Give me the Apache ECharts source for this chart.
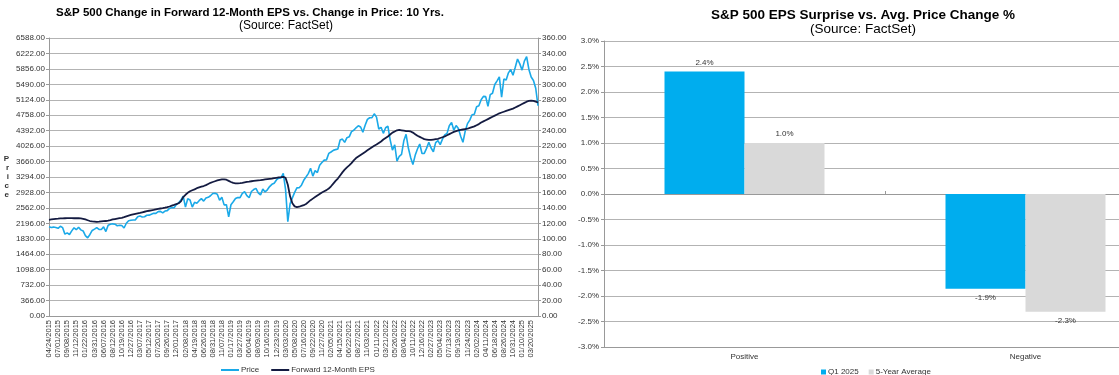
<!DOCTYPE html>
<html>
<head>
<meta charset="utf-8">
<script src="https://cdn.jsdelivr.net/npm/echarts@6/dist/echarts.min.js"></script>
<style>
  html, body { margin: 0; padding: 0; background: #fff; overflow: hidden; }
  /* wider than the window: the right chart is cut off at the edge, like the source image */
  #chart { width: 1170px; height: 375px; }
</style>
</head>
<body>
<div id="chart"></div>
<script>
// x-axis tick labels of the left chart (3 unlabeled points between each)
var tickDates = ['04/24/2015','07/01/2015','09/08/2015','11/12/2015','01/22/2016','03/31/2016','06/07/2016','08/12/2016',
  '10/19/2016','12/27/2016','03/07/2017','05/12/2017','07/20/2017','09/26/2017','12/01/2017','02/08/2018','04/19/2018',
  '06/26/2018','08/31/2018','11/07/2018','01/17/2019','03/27/2019','06/04/2019','08/09/2019','10/16/2019','12/23/2019',
  '03/03/2020','05/08/2020','07/16/2020','09/22/2020','11/27/2020','02/05/2021','04/15/2021','06/22/2021','08/27/2021',
  '11/03/2021','01/11/2022','03/21/2022','05/26/2022','08/04/2022','10/11/2022','12/16/2022','02/27/2023','05/04/2023',
  '07/13/2023','09/19/2023','11/24/2023','02/02/2024','04/11/2024','06/18/2024','08/26/2024','10/31/2024','01/10/2025',
  '03/20/2025'];

var price = [
  2117,2099,2107,2096, 2077,2127,2093,1940, 1969,1932,2017,2090, 2045,2103,2041,2016,
  1906,1852,1932,2027, 2060,2095,2051,2052, 2112,2001,2152,2173, 2184,2176,2139,2150,
  2144,2085,2198,2259, 2268,2274,2279,2351, 2368,2345,2353,2388, 2390,2412,2433,2432,
  2473,2480,2444,2488, 2497,2550,2572,2565, 2642,2681,2747,2839, 2581,2779,2749,2582,
  2693,2672,2733,2782, 2723,2798,2813,2850, 2902,2907,2886,2741, 2814,2633,2637,2351,
  2636,2706,2784,2810, 2805,2907,2945,2854, 2803,2950,2996,3025, 2919,2869,3007,2940,
  2990,3067,3120,3146, 3224,3265,3273,3380, 3003,2237,2660,2800, 2930,3036,3041,3100,
  3216,3295,3375,3500, 3315,3446,3400,3572, 3638,3695,3700,3853, 3887,3925,3943,3959,
  4170,4192,4115,4226, 4246,4370,4401,4460, 4509,4480,4357,4519, 4660,4698,4701,4791,
  4713,4432,4471,4329, 4461,4500,4175,3930, 4058,3667,3785,3831, 4152,4305,3980,3757,
  3589,3807,3957,4076, 3852,3853,3972,4117, 3982,3892,4109,4155, 4061,4192,4293,4328,
  4510,4589,4404,4515, 4443,4258,4117,4382, 4559,4643,4770,4780, 4959,4981,5124,5204,
  5199,4967,5247,5278, 5487,5572,5667,5186, 5616,5595,5762,5842, 5705,5893,6090,5975,
  5827,6039,6144,5843, 5663, 5581,5397,4982
];

var fwdEps = [
  124.5,125.0,125.4,125.8, 126.0,126.3,126.5,126.6, 126.7,126.8,126.8,126.6, 126.7,126.6,126.4,125.9,
  125.0,124.0,123.0,122.5, 122.3,122.0,122.2,122.5, 122.8,123.0,123.5,124.2, 125.0,125.6,126.2,126.7,
  127.2,128.0,129.0,130.0, 130.8,131.6,132.3,133.0, 133.6,134.3,135.0,135.7, 136.3,136.9,137.4,138.0,
  138.6,139.2,139.7,140.3, 141.0,141.8,142.8,143.8, 145.0,146.0,148.5,154.0, 157.0,159.5,161.5,162.8,
  164.0,165.5,166.5,167.5, 168.3,169.5,171.0,172.5, 173.5,174.5,175.5,176.3, 176.8,177.0,176.5,175.0,
  173.5,172.3,171.8,171.8, 172.0,172.4,173.0,173.6, 174.0,174.5,175.0,175.4, 175.7,176.0,176.4,176.8,
  177.2,177.6,178.0,178.5, 179.0,179.5,179.8,180.2, 179.0,170.0,155.0,146.0, 142.0,141.0,141.5,142.5,
  143.5,145.0,147.5,150.0, 152.0,154.0,156.0,158.0, 160.0,161.5,163.0,165.0, 168.0,171.5,175.0,178.0,
  182.0,186.0,189.5,192.5, 195.0,198.0,201.5,204.5, 206.5,208.5,210.5,212.5, 214.5,216.5,218.5,220.5,
  222.0,224.0,226.0,228.5, 230.5,232.5,235.0,237.5, 239.0,240.5,241.0,240.5, 240.0,239.5,239.5,239.0,
  237.5,235.5,233.5,232.0, 230.5,229.0,228.5,228.0, 228.0,228.5,229.0,229.5, 230.5,231.5,232.5,234.0,
  235.5,237.0,238.5,239.5, 240.5,241.0,241.5,242.0, 242.5,243.5,244.5,245.5, 247.0,248.5,250.5,252.0,
  253.5,255.0,256.5,258.0, 259.5,261.0,262.5,263.5, 264.5,265.5,266.5,267.5, 268.5,270.0,271.5,273.0,
  274.5,276.0,277.5,278.5, 279.0, 278.5,277.5,276.5
];

// right chart
var surpriseCats = ['Positive', 'Negative'];
var q1_2025 = [2.4, -1.86];
var fiveYearAvg = [1.0, -2.31];

// build the category list: label, then 3 blank steps
var cats = [];
tickDates.forEach(function (d, i) {
  cats.push(d);
  cats.push('', '', '');
});

var font = 'Liberation Sans, Arial, sans-serif';
var axisTxt = { color: '#333', fontSize: 8, fontFamily: font };
var gridGray = '#B3B3B3';

var chart = echarts.init(document.getElementById('chart'));
chart.setOption({
  animation: false,
  backgroundColor: '#fff',
  textStyle: { fontFamily: font },
  title: [
    { text: 'S&P 500 Change in Forward 12-Month EPS vs. Change in Price: 10 Yrs.', left: 245, top: 2, textAlign: 'center',
      textStyle: { fontSize: 11.5, fontWeight: 'bold', color: '#000', fontFamily: font } },
    { text: '(Source: FactSet)', left: 281, top: 15, textAlign: 'center',
      textStyle: { fontSize: 12, fontWeight: 'normal', color: '#000', fontFamily: font } },
    { text: 'S&P 500 EPS Surprise vs. Avg. Price Change %', left: 858, top: 3, textAlign: 'center',
      textStyle: { fontSize: 13.5, fontWeight: 'bold', color: '#000', fontFamily: font } },
    { text: '(Source: FactSet)', left: 858, top: 17, textAlign: 'center',
      textStyle: { fontSize: 13.5, fontWeight: 'normal', color: '#000', fontFamily: font } }
  ],
  legend: [
    { data: ['Price', 'Forward 12-Month EPS'], left: 216, top: 361, itemWidth: 18, itemHeight: 2, itemGap: 12,
      icon: 'rect', textStyle: { fontSize: 8, color: '#333', fontFamily: font, padding: [0, 0, 0, -3] } },
    { data: ['Q1 2025', '5-Year Average'], left: 816, top: 363, itemWidth: 5, itemHeight: 5, itemGap: 10,
      icon: 'rect', textStyle: { fontSize: 8, color: '#333', fontFamily: font, padding: [0, 0, 0, -3] } }
  ],
  grid: [
    { left: 49, width: 489, top: 38, bottom: 59 },
    { left: 604, width: 562, top: 41, bottom: 28 }
  ],
  xAxis: [
    { type: 'category', gridIndex: 0, data: cats, boundaryGap: false,
      axisLine: { lineStyle: { color: '#999' } }, axisTick: { show: false },
      axisLabel: { interval: 0, rotate: 90, fontSize: 7.5, margin: 4, color: '#333', fontFamily: font } },
    { type: 'category', gridIndex: 1, data: surpriseCats, position: 'bottom',
      axisLine: { onZero: false, lineStyle: { color: '#999' } }, axisTick: { show: false },
      axisLabel: Object.assign({ margin: 6 }, axisTxt) },
    { type: 'category', gridIndex: 1, data: surpriseCats,
      axisLine: { onZero: true, lineStyle: { color: '#999' } },
      axisTick: { show: true, length: 3, lineStyle: { color: '#999' } }, axisLabel: { show: false } }
  ],
  yAxis: [
    { type: 'value', gridIndex: 0, min: 0, max: 6588, interval: 366,
      name: 'P\nr\ni\nc\ne', nameLocation: 'middle', nameGap: 40, nameRotate: 0,
      nameTextStyle: { fontSize: 8, fontWeight: 'bold', color: '#333', lineHeight: 9, fontFamily: font },
      axisLine: { show: true, lineStyle: { color: '#999' } }, axisTick: { show: true, length: 3, lineStyle: { color: '#999' } },
      splitLine: { lineStyle: { color: gridGray } },
      axisLabel: Object.assign({ margin: 4, formatter: function (v) { return v.toFixed(2); } }, axisTxt) },
    { type: 'value', gridIndex: 0, min: 0, max: 360, interval: 20, position: 'right',
      axisLine: { show: true, lineStyle: { color: '#999' } }, axisTick: { show: true, length: 3, lineStyle: { color: '#999' } },
      splitLine: { show: false },
      axisLabel: Object.assign({ margin: 4, formatter: function (v) { return v.toFixed(2); } }, axisTxt) },
    { type: 'value', gridIndex: 1, min: -3, max: 3, interval: 0.5,
      axisLine: { show: true, lineStyle: { color: '#999' } }, axisTick: { show: true, length: 3, lineStyle: { color: '#999' } },
      splitLine: { lineStyle: { color: gridGray } },
      axisLabel: Object.assign({ margin: 5, formatter: function (v) { return v.toFixed(1) + '%'; } }, axisTxt) }
  ],
  series: [
    { name: 'Price', type: 'line', xAxisIndex: 0, yAxisIndex: 0, data: price, showSymbol: false,
      lineStyle: { color: '#1AA9E8', width: 1.6 }, itemStyle: { color: '#1AA9E8' } },
    { name: 'Forward 12-Month EPS', type: 'line', xAxisIndex: 0, yAxisIndex: 1, data: fwdEps, showSymbol: false,
      lineStyle: { color: '#141B41', width: 1.8 }, itemStyle: { color: '#141B41' } },
    { name: 'Q1 2025', type: 'bar', xAxisIndex: 1, yAxisIndex: 2, data: q1_2025, barWidth: 80, barGap: '0%',
      itemStyle: { color: '#00ADEE' },
      label: { show: true, position: 'outside', fontSize: 8, color: '#333', fontFamily: font,
        formatter: function (p) { return p.value.toFixed(1) + '%'; } } },
    { name: '5-Year Average', type: 'bar', xAxisIndex: 1, yAxisIndex: 2, data: fiveYearAvg, barWidth: 80, barGap: '0%',
      itemStyle: { color: '#D9D9D9' },
      label: { show: true, position: 'outside', fontSize: 8, color: '#333', fontFamily: font,
        formatter: function (p) { return p.value.toFixed(1) + '%'; } } }
  ]
});
</script>
</body>
</html>
